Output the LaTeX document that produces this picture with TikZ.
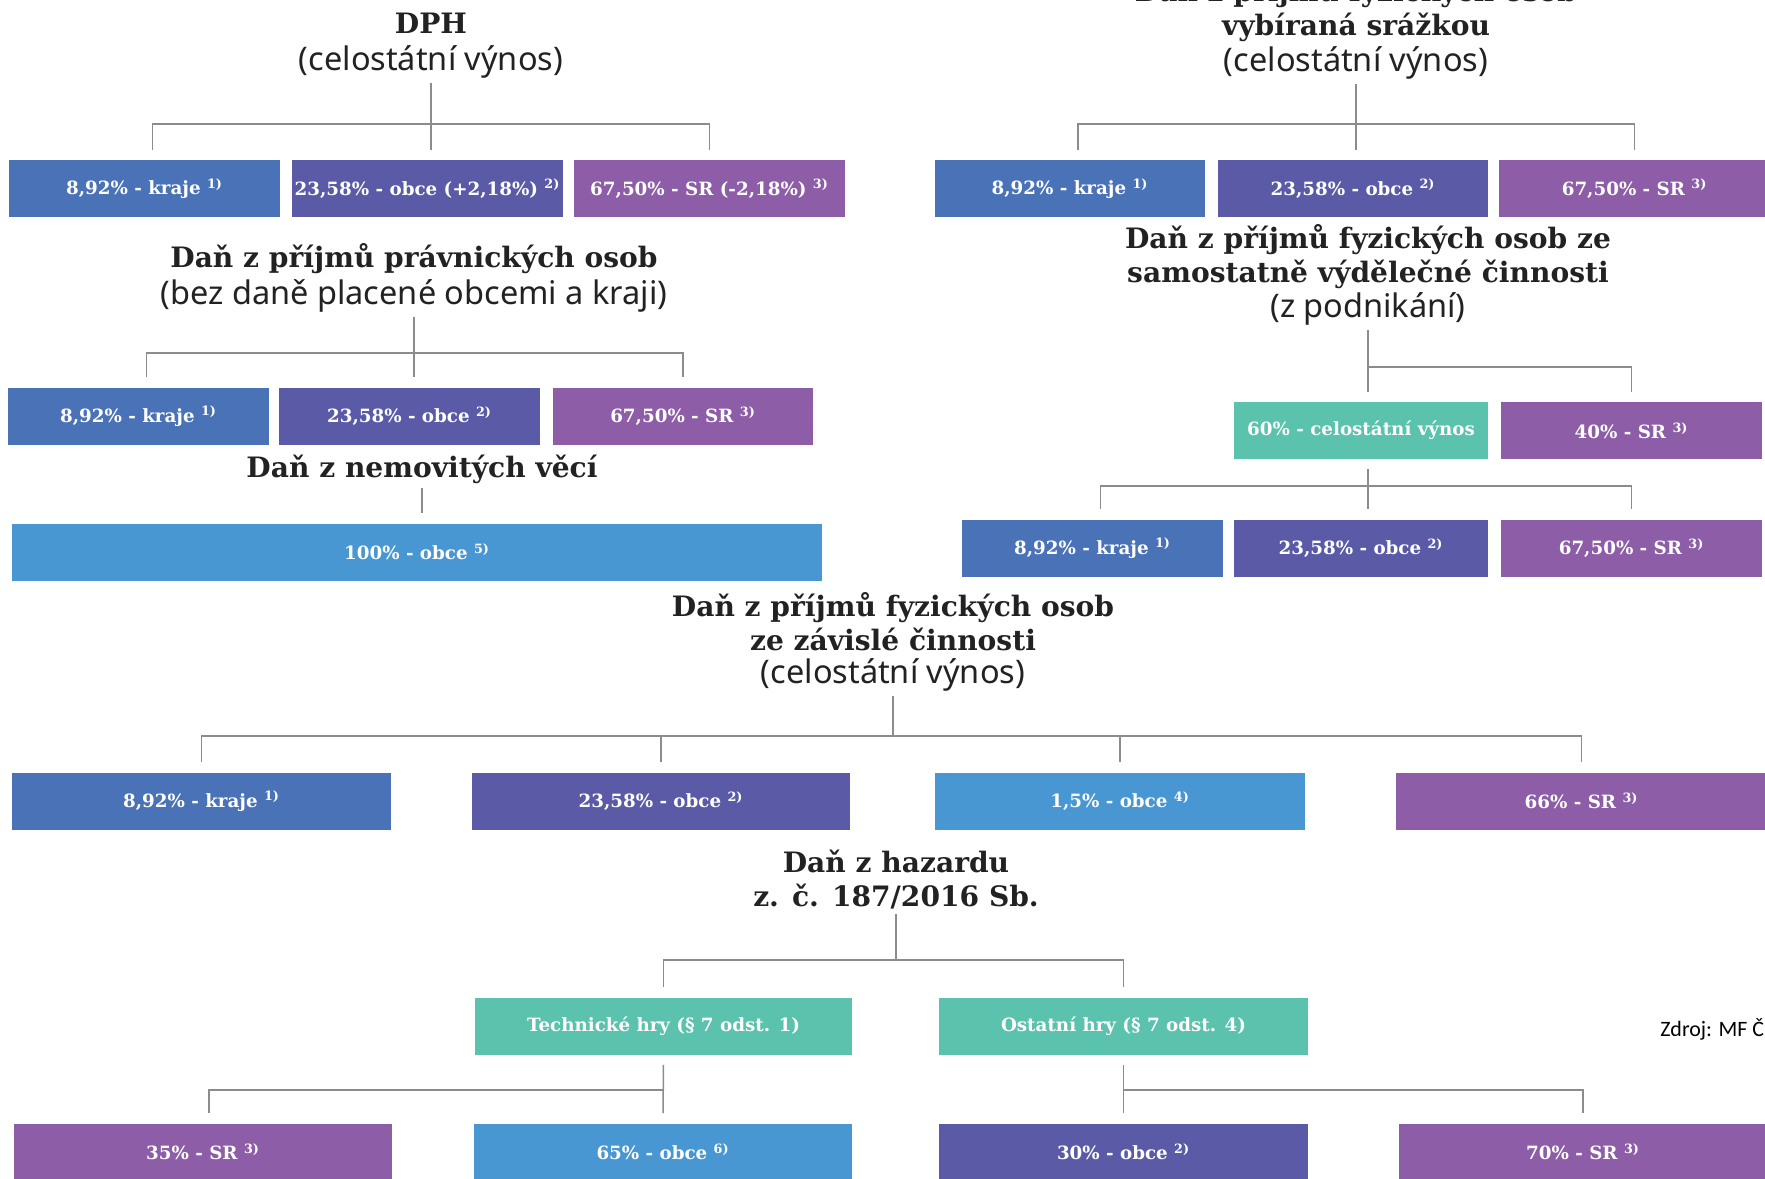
\documentclass[tikz,border=0pt]{standalone}
\usepackage{fontspec}
\setmainfont{DejaVu Serif}
\newfontfamily\subfont{Noto Sans}
\newfontfamily\srcfont{Carlito}
\usetikzlibrary{positioning}

\definecolor{krajeblue}{HTML}{4A72B7}
\definecolor{obceindigo}{HTML}{5A5AA6}
\definecolor{srpurple}{HTML}{8D5EA7}
\definecolor{obcelight}{HTML}{4897D2}
\definecolor{statgreen}{HTML}{5BC2AE}
\definecolor{linegray}{HTML}{8C8C8C}
\definecolor{titlegray}{HTML}{222222}

\newcommand{\titlefont}{\fontsize{16}{19.3}\selectfont\bfseries}
\newcommand{\subtitlefont}{\subfont\fontsize{18.5}{22}\selectfont}
\newcommand{\boxfont}{\fontsize{10.4}{12}\selectfont\bfseries}

\tikzset {
    box/.style={
        rectangle, % Set the shape as a rectangle
        inner sep=0pt,
        minimum height=57*0.02cm,
        text=white,
        font=\boxfont,
    },
    boxw/.style={minimum width=#1*0.02cm},
    box kraje/.style={box, fill=krajeblue},
    box obce/.style={box, fill=obceindigo},
    box sr/.style={box, fill=srpurple},
    box obce light/.style={box, fill=obcelight},
    box stat/.style={box, fill=statgreen},
    title/.style={align=center, text=titlegray, font=\titlefont, inner sep=0pt},
    subtitle/.style={align=center, text=titlegray, font=\subtitlefont, inner sep=0pt},
    trunk/.style={draw=linegray, line width=0.85pt, shorten <=0.08cm},
    box trunk/.style={draw=linegray, line width=0.85pt, shorten <=0.2cm},
    link/.style={draw=linegray, line width=0.85pt, shorten >=0.2cm},
}

\begin{document}
\begin{tikzpicture}[x=0.02cm, y=-0.02cm]
    \useasboundingbox (0,0) rectangle (1765,1179);

    % DPH
    \node[title] (dph) at (431,23) {DPH};
    \node[subtitle] (dphsub) at (431,62) {(celostátní výnos)};
    \node[box kraje, boxw=271] (d1) at (144.5,188.5) {8,92\% - kraje \textsuperscript{1)}};
    \node[box obce, boxw=271] (d2) at (427.5,188.5) {23,58\% - obce (+2,18\%) \textsuperscript{2)}};
    \node[box sr, boxw=271] (d3) at (709.5,188.5) {67,50\% - SR (-2,18\%) \textsuperscript{3)}};
    \coordinate (dphJ) at (dphsub.south |- 0,124);
    \draw[trunk, link] (dphsub.south) -- (dphsub.south |- d2.north);
    \draw[link] (dphJ) -| ([xshift=8*0.02cm]d1.north);
    \draw[link] (dphJ) -| (d3.north);

    % srazkou
    \node[title] (srz) at (1356,10) {Daň z příjmů fyzických osob\\vybíraná srážkou};
    \node[subtitle] (srzsub) at (1356,63) {(celostátní výnos)};
    \node[box kraje, boxw=270] (s1) at (1070,188.5) {8,92\% - kraje \textsuperscript{1)}};
    \node[box obce, boxw=270] (s2) at (1353,188.5) {23,58\% - obce \textsuperscript{2)}};
    \node[box sr, boxw=271] (s3) at (1634.5,188.5) {67,50\% - SR \textsuperscript{3)}};
    \coordinate (srzJ) at (srzsub.south |- 0,124);
    \draw[trunk, link] (srzsub.south) -- (srzsub.south |- s2.north);
    \draw[link] (srzJ) -| ([xshift=8*0.02cm]s1.north);
    \draw[link] (srzJ) -| (s3.north);

    % pravnicke osoby
    \node[title] (dppo) at (414,259) {Daň z příjmů právnických osob};
    \node[subtitle] (dpposub) at (414,296) {(bez daně placené obcemi a kraji)};
    \node[box kraje, boxw=261] (p1) at (138.5,416) {8,92\% - kraje \textsuperscript{1)}};
    \node[box obce, boxw=261] (p2) at (409.5,416) {23,58\% - obce \textsuperscript{2)}};
    \node[box sr, boxw=260] (p3) at (683,416) {67,50\% - SR \textsuperscript{3)}};
    \coordinate (dppoJ) at (dpposub.south |- 0,353);
    \draw[trunk, link] (dpposub.south) -- (dpposub.south |- p2.north);
    \draw[link] (dppoJ) -| ([xshift=8*0.02cm]p1.north);
    \draw[link] (dppoJ) -| (p3.north);

    % nemovite veci
    \node[title] (dnv) at (422,469) {Daň z nemovitých věcí};
    \node[box obce light, boxw=810] (n1) at (417,552) {100\% - obce \textsuperscript{5)}};
    \draw[trunk, link] (dnv.south) -- (dnv.south |- n1.north);

    % OSVC
    \node[title] (osvc) at (1368,256.5) {Daň z příjmů fyzických osob ze\\samostatně výdělečné činnosti};
    \node[subtitle] (osvcsub) at (1368,309) {(z podnikání)};
    \node[box stat, boxw=254] (e1) at (1361,430.5) {60\% - celostátní výnos};
    \node[box sr, boxw=261] (e2) at (1631.5,430.5) {40\% - SR \textsuperscript{3)}};
    \node[box kraje, boxw=261] (e3) at (1092.5,548) {8,92\% - kraje \textsuperscript{1)}};
    \node[box obce, boxw=254] (e4) at (1361,548) {23,58\% - obce \textsuperscript{2)}};
    \node[box sr, boxw=261] (e5) at (1631.5,548) {67,50\% - SR \textsuperscript{3)}};
    \coordinate (osvcJ) at (osvcsub.south |- 0,367);
    \draw[trunk, link] (osvcsub.south) -- (osvcsub.south |- e1.north);
    \draw[link] (osvcJ) -| (e2.north);
    \coordinate (statJ) at (osvcsub.south |- 0,486);
    \draw[box trunk, link] (osvcsub.south |- e1.south) -- (osvcsub.south |- e4.north);
    \draw[link] (statJ) -| ([xshift=8*0.02cm]e3.north);
    \draw[link] (statJ) -| (e5.north);

    % zavisla cinnost
    \node[title] (zc) at (893,621.5) {Daň z příjmů fyzických osob\\ze závislé činnosti};
    \node[subtitle] (zcsub) at (893,675) {(celostátní výnos)};
    \node[box kraje, boxw=379] (z1) at (201.5,801) {8,92\% - kraje \textsuperscript{1)}};
    \node[box obce, boxw=378] (z2) at (661,801) {23,58\% - obce \textsuperscript{2)}};
    \node[box obce light, boxw=370] (z3) at (1120,801) {1,5\% - obce \textsuperscript{4)}};
    \node[box sr, boxw=371] (z4) at (1581.5,801) {66\% - SR \textsuperscript{3)}};
    \coordinate (zcJ) at (zcsub.south |- 0,736);
    \draw[trunk] (zcsub.south) -- (zcJ);
    \foreach \z in {z1,z2,z3,z4}
        \draw[link] (zcJ) -| (\z.north);

    % hazard
    \node[title] (haz) at (896,880) {Daň z hazardu\\z. č. 187/2016 Sb.};
    \node[box stat, boxw=377] (h1) at (663.5,1026) {Technické hry (§ 7 odst. 1)};
    \node[box stat, boxw=369] (h2) at (1123.5,1026) {Ostatní hry (§ 7 odst. 4)};
    \coordinate (hazJ) at (haz.south |- 0,960);
    \draw[trunk] (haz.south) -- (hazJ);
    \draw[link] (hazJ) -| (h1.north);
    \draw[link] (hazJ) -| (h2.north);
    \node[box sr, boxw=378] (h3) at (203,1152) {35\% - SR \textsuperscript{3)}};
    \node[box obce light, boxw=378] (h4) at (663,1152) {65\% - obce \textsuperscript{6)}};
    \node[box obce, boxw=369] (h5) at (1123.5,1152) {30\% - obce \textsuperscript{2)}};
    \node[box sr, boxw=368] (h6) at (1583,1152) {70\% - SR \textsuperscript{3)}};
    \coordinate (techJ) at (h1.south |- 0,1090);
    \coordinate (ostJ) at (h2.south |- 0,1090);
    \draw[box trunk, link] (h1.south) -- (h4.north);
    \draw[link] (techJ) -| ([xshift=6*0.02cm]h3.north);
    \draw[box trunk, link] (h2.south) -- (h5.north);
    \draw[link] (ostJ) -| (h6.north);

    \node[anchor=west, inner sep=0pt, font=\srcfont\fontsize{12.5}{14}\selectfont] (zdroj) at (1660,1029) {Zdroj: MF ČR};
\end{tikzpicture}
\end{document}
